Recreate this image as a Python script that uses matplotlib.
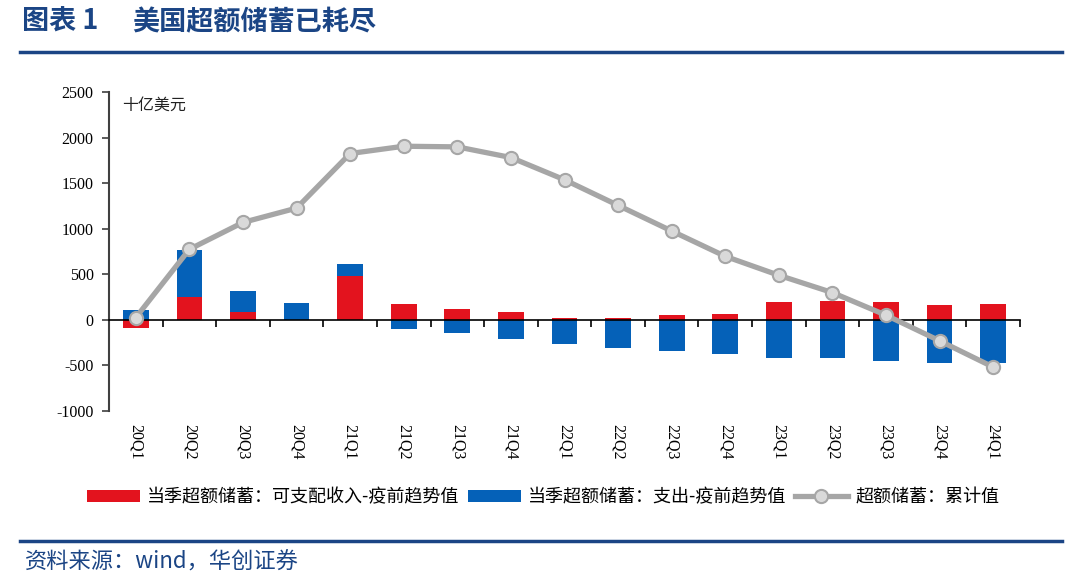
import numpy as np
import matplotlib
matplotlib.use("Agg")
import matplotlib.pyplot as plt
from matplotlib.lines import Line2D
from matplotlib.patches import Patch

plt.rcParams['font.family'] = ['Noto Sans CJK SC', 'DejaVu Sans']

categories = ["20Q1", "20Q2", "20Q3", "20Q4", "21Q1", "21Q2", "21Q3", "21Q4",
              "22Q1", "22Q2", "22Q3", "22Q4", "23Q1", "23Q2", "23Q3", "23Q4", "24Q1"]
income_excess = [-90, 252, 84, 0, 485, 175, 124, 88, 15, 15, 51, 66, 193, 208, 193, 168, 179]
spending_excess = [110, 515, 234, 183, 132, -95, -139, -208, -266, -310, -343, -372, -416, -423, -453, -471, -478]
cumulative = [25, 774, 1069, 1226, 1825, 1905, 1898, 1781, 1537, 1256, 975, 697, 489, 299, 51, -230, -518]

labels = ["当季超额储蓄：可支配收入-疫前趋势值", "当季超额储蓄：支出-疫前趋势值", "超额储蓄：累计值"]
unit_text = "十亿美元"
title_prefix = "图表 1"
title_text = "美国超额储蓄已耗尽"
source_text = "资料来源：wind，华创证券"

RED = "#E3131E"
BLUE = "#0561B8"
GRAY = "#A6A6A6"
NAVY = "#1B4585"

fig = plt.figure(figsize=(10.8, 5.86), dpi=100)
ax = fig.add_axes([109/1080, 1-411/586, (1020-109)/1080, (411-92)/586])

x = np.arange(len(categories))
red = np.array(income_excess, dtype=float)
blue = np.array(spending_excess, dtype=float)
blue_bottom = np.where(blue >= 0, np.maximum(red, 0), np.minimum(red, 0))

ax.bar(x, red, width=0.48, color=RED, zorder=2)
ax.bar(x, blue, width=0.48, bottom=blue_bottom, color=BLUE, zorder=2)
ax.plot(x, cumulative, color=GRAY, lw=3.8, marker='o', markersize=9.5,
        markerfacecolor="#D9D9D9", markeredgecolor=GRAY, markeredgewidth=1.5, zorder=4)

ax.set_xlim(-0.5, len(categories) - 0.5)
ax.set_ylim(-1000, 2500)
ax.set_yticks(np.arange(-1000, 2501, 500))
ax.set_yticklabels([str(v) for v in range(-1000, 2501, 500)], family='Liberation Serif', fontsize=11.5)

for s in ['top', 'right']:
    ax.spines[s].set_visible(False)
ax.spines['bottom'].set_position(('data', 0))
ax.spines['bottom'].set_color('black')
ax.spines['bottom'].set_linewidth(1.2)
ax.spines['bottom'].set_zorder(3)
ax.spines['left'].set_color('#404040')
ax.spines['left'].set_linewidth(1.5)

ax.set_xticks(x)
ax.set_xticklabels(categories, rotation=-90, family='Liberation Serif', fontsize=11.5, va='top', ha='center')
ax.tick_params(axis='x', which='major', length=0, pad=75)
ax.set_xticks(np.arange(-0.5, len(categories)), minor=True)
ax.tick_params(axis='x', which='minor', length=5, width=1.2, direction='out', color='black')
ax.tick_params(axis='y', length=5, width=1.2, direction='out', color='#404040', pad=6)

fig.text(122/1080, 1-105/586, unit_text, fontsize=11.5, va='center', ha='left', color='#222222')

handles = [Patch(facecolor=RED, edgecolor='none'), Patch(facecolor=BLUE, edgecolor='none'),
           Line2D([0], [0], color=GRAY, lw=3.8, marker='o', markersize=9.5,
                  markerfacecolor="#D9D9D9", markeredgecolor=GRAY, markeredgewidth=1.5)]
fig.legend(handles, labels, loc='center', bbox_to_anchor=(543/1080, 1-497/586), ncol=3,
           frameon=False, fontsize=13, handlelength=2.95, handleheight=0.67,
           handletextpad=0.4, columnspacing=0.45)

fig.text(22/1080, 1-22/586, title_prefix, fontsize=19.5, fontweight='bold', color=NAVY, va='center', ha='left')
fig.text(132/1080, 1-22/586, title_text, fontsize=19.5, fontweight='bold', color=NAVY, va='center', ha='left')
fig.add_artist(Line2D([20/1080, 1062/1080], [1-52/586, 1-52/586], color=NAVY, lw=2.5))
fig.add_artist(Line2D([20/1080, 1062/1080], [1-541/586, 1-541/586], color=NAVY, lw=2.5))
fig.text(25/1080, 1-562/586, source_text, fontsize=16, style='italic', color=NAVY, va='center', ha='left')

fig.savefig("out.png", dpi=100)
